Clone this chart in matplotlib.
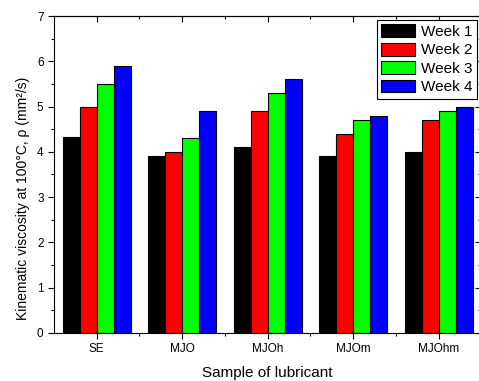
import numpy as np
import matplotlib.pyplot as plt
from matplotlib.ticker import MultipleLocator, FixedLocator

plt.rcParams['font.family'] = ['Liberation Sans', 'DejaVu Sans']

samples = ['SE', 'MJO', 'MJOh', 'MJOm', 'MJOhm']
weeks = ['Week 1', 'Week 2', 'Week 3', 'Week 4']
week1 = [4.33, 3.9, 4.1, 3.9, 4.0]
week2 = [5.0, 4.0, 4.9, 4.4, 4.7]
week3 = [5.5, 4.3, 5.3, 4.7, 4.9]
week4 = [5.9, 4.9, 5.6, 4.8, 5.0]
colors = ['#000000', '#ff0000', '#00ff00', '#0000ff']

fig = plt.figure(figsize=(4.79, 3.81), dpi=100)
ax = fig.add_axes([0.1127, 0.126, 0.8925, 0.832])

x = np.arange(1, len(samples) + 1)
width = 0.2
series = [week1, week2, week3, week4]
for i, vals in enumerate(series):
    ax.bar(x + (i - 1.5) * width, vals, width, color=colors[i],
           edgecolor='black', linewidth=0.8, label=weeks[i])

minor_x = FixedLocator(np.arange(1.5, 5.5, 1))

ax.set_xlim(0.5, 5.5)
ax.set_ylim(0, 7)
ax.set_xticks(x)
ax.set_xticklabels(samples)
ax.xaxis.set_minor_locator(minor_x)
ax.yaxis.set_major_locator(MultipleLocator(1))
ax.yaxis.set_minor_locator(MultipleLocator(0.5))
ax.tick_params(which='both', direction='out', labelsize=8.5)
ax.tick_params(which='major', length=4, width=0.8)
ax.tick_params(which='minor', length=2.5, width=0.8)

# mirrored axes with inward ticks on top and right
top = ax.secondary_xaxis('top')
top.set_xticks(x)
top.xaxis.set_minor_locator(FixedLocator(np.arange(1.5, 5.5, 1)))
top.tick_params(which='both', direction='in', labeltop=False)
top.tick_params(which='major', length=4, width=0.8)
top.tick_params(which='minor', length=2.5, width=0.8)
right = ax.secondary_yaxis('right')
right.yaxis.set_major_locator(MultipleLocator(1))
right.yaxis.set_minor_locator(MultipleLocator(0.5))
right.tick_params(which='both', direction='in', labelright=False)
right.tick_params(which='major', length=4, width=0.8)
right.tick_params(which='minor', length=2.5, width=0.8)

ax.set_xlabel('Sample of lubricant', fontsize=11)
ax.xaxis.set_label_coords(0.5, -0.126)
ax.set_ylabel('Kinematic viscosity at 100°C, ρ (mm²/s)', fontsize=10)
ax.yaxis.set_label_coords(-0.072, 0.425)
ax.xaxis.label.set_va('center')
ax.yaxis.label.set_va('center')

leg = ax.legend(loc='upper right', bbox_to_anchor=(0.99, 0.988), fontsize=11,
                fancybox=False, edgecolor='black', framealpha=1,
                handlelength=2.2, handleheight=0.9, borderpad=0.3,
                labelspacing=0.25, handletextpad=0.4, borderaxespad=0.0)
leg.get_frame().set_linewidth(0.8)

fig.savefig('out.png', dpi=100)
